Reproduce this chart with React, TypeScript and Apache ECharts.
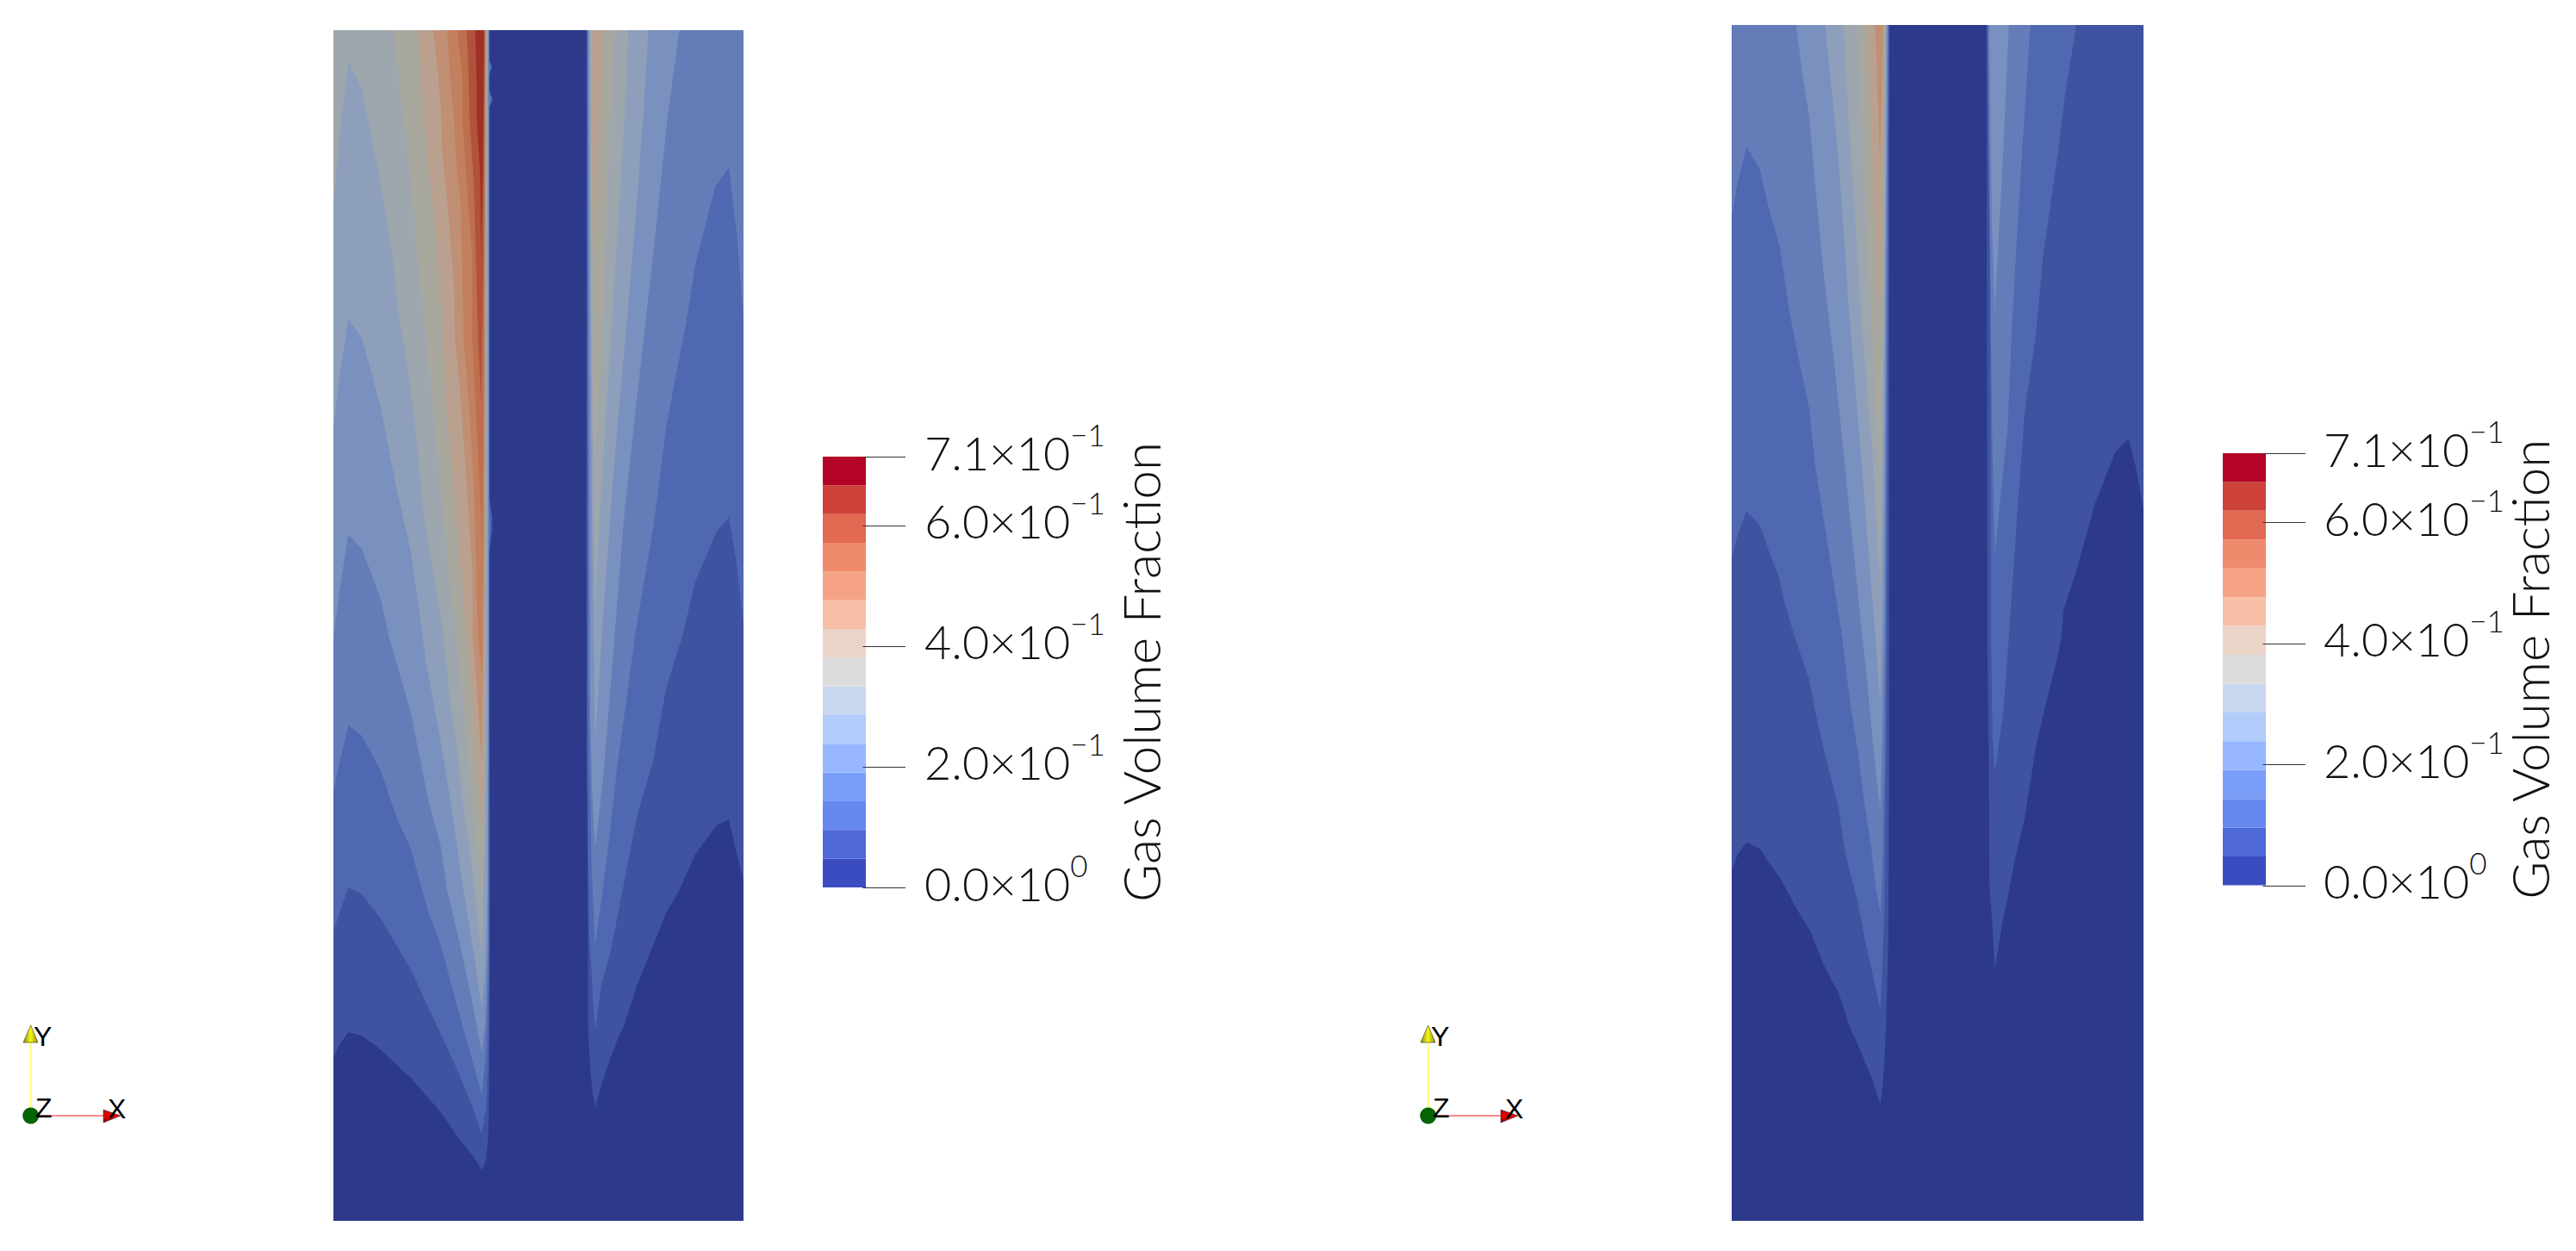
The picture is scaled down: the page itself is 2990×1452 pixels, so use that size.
import React, { useEffect, useRef } from "react";
import * as echarts from "echarts";

// Contour fill colour of each level of the field (as lit in the two views)
const fieldColors = ["#2d3a8c", "#3f53a1", "#5068b2", "#647cb8", "#7a90be", "#8e9fbb", "#9ea7ae", "#a9a89f", "#b9a08f", "#c08f74", "#c2805f", "#bd6f4f", "#b0533a", "#9e3028"];
// Colour legend bands, bottom to top
const legendColors = ["#3b4cc0", "#4f69d9", "#6788ee", "#7b9ff9", "#96b7ff", "#b2ccfb", "#c9d7f0", "#dddcdc", "#ead4c8", "#f6bfa6", "#f6a385", "#f08a6c", "#e26952", "#cc4239", "#b40426"];
const legendTicks = [0, 0.2, 0.4, 0.6, 0.714];
const legendMantissas = ["0.0", "2.0", "4.0", "6.0", "7.1"];
const legendExponents = ["0", "−1", "−1", "−1", "−1"];
const legendTitle = "Gas Volume Fraction";

// View A: iso-contours, left of the pipe, levels 1..13
const viewAInner: number[][][] = [
  [[387,1227],[395,1211],[404.3,1198],[420,1202],[441.7,1218],[453,1229],[467,1242],[476.7,1251],[511.7,1291],[530,1318],[550,1343],[559.3,1358],[564,1347],[566.7,1320],[568,1253],[568.5,1100],[568.5,640],[571.5,615],[571.5,600],[568.5,580],[568.5,125],[572,115],[568.5,105],[568.5,86],[571.5,78],[568.5,70],[568.5,35],[387,35]],
  [[387,1081],[395,1057],[404.3,1030],[420,1038],[441.7,1066],[476.7,1125],[496.7,1169],[511.7,1200],[530,1240],[548.3,1285],[559.3,1316],[564.3,1285],[566.7,1231],[568,1142],[568,640],[570,615],[570,600],[568,580],[568,125],[571,115],[568,105],[568,86],[570.5,78],[568,70],[568,35],[387,35]],
  [[387,919],[395,881],[404.3,842],[420,854],[441.7,894],[460,948],[476.7,985],[496.7,1057],[511.7,1097],[530,1166],[548.3,1231],[559.3,1271],[563.3,1231],[566,1164],[567.3,1097],[567.5,640],[568.5,612],[567.5,580],[567.5,125],[570,115],[567.5,105],[567.5,86],[569.5,78],[567.5,70],[567.5,35],[387,35]],
  [[387,740],[395,680],[404.3,621],[420,637],[441.7,695],[451.7,740],[476.7,827],[496.7,927],[511.7,983],[518.3,1030],[533.3,1093],[548.3,1164],[559.3,1222],[563.3,1186],[566,1097],[567,800],[567,35],[387,35]],
  [[387,497],[395,430],[404.3,371],[420,392],[441.7,472],[460,566],[476.7,640],[490.7,740],[494,767],[510,852],[524,936],[536.7,1026],[548.3,1097],[559.3,1169],[563,1130],[565.5,1040],[566.5,800],[566.5,35],[387,35]],
  [[387,240],[395,150],[404.3,70],[420,103],[430,153],[441.7,213],[456.7,305],[463.3,369],[470,405],[480,478],[487,545],[492,600],[515,740],[521.7,807],[530,865],[538.3,941],[546.7,999],[559.3,1108],[563.5,950],[565.7,35],[387,35]],
  [[457,35],[465,112],[473.3,171.5],[481.7,263],[485,302],[495,395],[503,478],[511.7,562],[520,655],[530,740],[536.7,807],[545,896],[553.3,977],[559.3,1044],[563,880],[565.2,35]],
  [[485,35],[490,102],[493.3,152],[498.3,202],[505,262],[508.3,302],[515,395],[518.3,478],[526.7,562],[533.3,645],[541.7,740],[546.7,798],[551.7,865],[556,919],[559.3,968],[562.5,800],[564.5,35]],
  [[503,35],[508.3,85],[511.7,125],[513.3,175],[520,242],[526.7,328],[528.3,395],[533.3,445],[541.7,562],[548.3,662],[549,740],[553.3,794],[556.7,847],[559.3,883],[562,700],[564,35]],
  [[519,35],[521.7,78],[526.7,135],[530,192],[535,242],[538.3,395],[545,478],[550,562],[555,740],[559.3,785],[562,600],[563.5,35]],
  [[531,35],[536.7,92],[536.7,135],[541.7,212],[548.3,302],[548.3,395],[553.3,495],[558.3,595],[559.3,650],[561.5,450],[563,35]],
  [[541.7,35],[544,92],[545,135],[550,212],[555,395],[558.5,470],[561,300],[562.4,35]],
  [[551.7,35],[553.3,102],[553.3,135],[557.3,202],[558.3,295],[560.5,200],[561.9,35]],
];
// View A: iso-contours, right of the pipe, levels 1..8
const viewAOuter: number[][][] = [
  [[680.7,35],[680.7,700],[682.3,1052],[682.7,1195],[685,1240],[688.3,1271],[690.7,1285.5],[700,1253],[708.3,1229],[716.7,1206.5],[725,1188.6],[740,1142],[758.3,1097],[773.3,1059],[786.7,1037],[806.7,992],[831.7,958],[846,951],[855,990],[863,1022],[863,35]],
  [[681.3,35],[681.3,874],[682.7,1008],[684,1088],[686.7,1133],[690.7,1196],[698.3,1142],[708.3,1106],[716.7,1064],[726.7,1012],[740,945],[758.3,883],[773.3,798],[791.7,740],[806.7,676],[831.7,617],[846,600.6],[855,653],[863,725],[863,35]],
  [[682,35],[683.3,807],[685,918.6],[686.7,1008],[690.7,1097],[698.3,1043.6],[708.3,963],[716.7,887],[725,829],[736.7,740],[758.3,612],[773.3,495],[798.3,364],[806.7,309],[830,217],[846,194.4],[855,270],[863,369],[863,35]],
  [[682.7,35],[685,829],[687.3,918.6],[690.7,985.5],[700,905],[713.3,740],[723.3,612],[738.3,470],[758.3,295],[775,135],[788.7,35]],
  [[684,35],[684.5,300],[687.5,650],[690.7,858],[695,798],[698.3,740],[713.3,535],[725,402],[736.7,268],[746.7,135],[752.7,35]],
  [[685,35],[685.5,280],[688,520],[690.7,706],[695,620],[700,535],[708.3,402],[716.7,268],[725,135],[729.3,35]],
  [[686,35],[686.5,150],[688.5,400],[690.5,575],[690.7,535],[698.3,402],[703.3,268],[708.3,135],[712.7,35]],
  [[687.3,35],[688,200],[690.7,312],[690.7,302],[693.3,202],[696.7,118],[700,35]],
];
// View B: iso-contours, left of the pipe, levels 1..9
const viewBInner: number[][][] = [
  [[2010.3,1010],[2016.7,992],[2027.3,977.5],[2043.3,985.5],[2051.7,999],[2065,1017],[2086.7,1057],[2101.7,1081.5],[2116.7,1119.4],[2135,1155],[2146.7,1191],[2156.7,1213],[2173.3,1253],[2182.7,1282],[2186,1253],[2189.3,1186],[2191.7,1097],[2192.7,918.6],[2193,29],[2010.3,29]],
  [[2010.3,649],[2016.7,621],[2027.3,593],[2042.7,610],[2053.3,640],[2065,669.5],[2070,695],[2083.3,740],[2100,789],[2106.7,825],[2120,883],[2133.3,934],[2141.7,990],[2156.7,1048],[2163.3,1084],[2175,1137],[2182.7,1173],[2185,1119.4],[2187.3,1052.5],[2188.7,918.6],[2190,740],[2192.6,29],[2010.3,29]],
  [[2010.3,249.5],[2016.7,213],[2027.3,170],[2042.7,197],[2053.3,243],[2065.7,286],[2076.7,360],[2088.3,419],[2100,474],[2106.7,539],[2118.3,612],[2128.3,676],[2138.3,740],[2146.7,811],[2156.7,874],[2163.3,927.5],[2171.7,981],[2176.7,1026],[2182.7,1062],[2185,1008],[2187.3,874],[2188.7,740],[2191.6,29],[2010.3,29]],
  [[2085,29],[2091.7,84],[2100,135],[2106.7,213],[2116.7,318],[2128.3,415],[2135,479],[2140,528],[2146.7,594],[2161.7,740],[2166.7,785],[2173.3,856],[2178.3,905],[2182.7,940],[2185,840],[2187.5,700],[2190.8,29]],
  [[2118.3,29],[2125,95],[2131.7,161],[2138.3,245],[2145,345],[2151.7,428],[2160,528],[2176.7,740],[2180,785],[2182.7,814],[2185,700],[2187,500],[2190,29]],
  [[2140,29],[2145,128],[2151.7,228],[2160,361],[2166.7,445],[2173.3,528],[2182.7,681],[2185,560],[2187,350],[2189,29]],
  [[2156.7,29],[2161.7,161],[2166.7,261],[2173.3,395],[2180,511],[2182.7,560],[2184.5,430],[2186,250],[2188,29]],
  [[2167.7,29],[2170,95],[2175,228],[2180,328],[2182.7,368],[2184,280],[2185,200],[2187,29]],
  [[2176.7,29],[2179,95],[2182.3,191],[2184,100],[2186,29]],
];
// View B: iso-contours, right of the pipe, levels 1..4
const viewBOuter: number[][][] = [
  [[2305.7,29],[2306.7,740],[2308.3,874],[2309.3,1030],[2312.7,1075],[2315.3,1125],[2325,1066],[2331.7,1035],[2338.3,999],[2350,950],[2363.3,865],[2375,816],[2388.3,762],[2392.7,740],[2395,708.5],[2410,662.6],[2431.7,584.6],[2455,525],[2470.7,509],[2479.3,543],[2488,591.5],[2488,29]],
  [[2306.5,29],[2310,295],[2311,740],[2312.7,852],[2315.3,896],[2325,829],[2331.7,740],[2340,617],[2350,479],[2363.3,387],[2371.7,295],[2388.3,180.6],[2396.7,112],[2410,29]],
  [[2307.5,29],[2308.3,158],[2310.7,387],[2312.7,525],[2315.3,644],[2325,548],[2330,502],[2335,387],[2340,295],[2346.7,181],[2356.7,29]],
  [[2309,29],[2310,112],[2311.7,249.5],[2315.3,364],[2320,272],[2325,181],[2331.7,29]],
];

const viewARangeX = [387, 863];
const viewARangeY = [35, 1417];
const viewBRangeX = [2010, 2488];
const viewBRangeY = [29, 1417];

const triadOrigins = [0, 1622];
const FONT = "Lato";
const FONT_W = 300;

function contourSeries(xi: number, rx: number[], ry: number[], sides: number[][][][]) {
  const polys: { level: number; pts: number[][] }[] = [
    { level: 0, pts: [[rx[0], ry[0]], [rx[1], ry[0]], [rx[1], ry[1]], [rx[0], ry[1]]] },
  ];
  sides.forEach((side) => side.forEach((pts, i) => polys.push({ level: i + 1, pts })));
  polys.sort((a, b) => a.level - b.level);
  return {
    type: "custom",
    xAxisIndex: xi,
    yAxisIndex: xi,
    silent: true,
    clip: true,
    data: polys.map((p, i) => [p.pts[0][0], p.pts[0][1], i]),
    renderItem: (params: any, api: any) => {
      const p = polys[params.dataIndex];
      return {
        type: "polygon",
        shape: { points: p.pts.map((q) => api.coord(q)) },
        style: { fill: fieldColors[p.level] },
      };
    },
  };
}

function legendSeries(xi: number) {
  const top = legendTicks[legendTicks.length - 1];
  return {
    type: "custom",
    xAxisIndex: xi,
    yAxisIndex: xi,
    silent: true,
    data: legendColors.map((_, i) => [0, (i * top) / legendColors.length, i]),
    renderItem: (params: any, api: any) => {
      const i = params.dataIndex;
      const a = api.coord([0, (i * top) / legendColors.length]);
      const b = api.coord([1, ((i + 1) * top) / legendColors.length]);
      return {
        type: "rect",
        shape: { x: a[0], y: b[1], width: b[0] - a[0], height: a[1] - b[1] },
        style: { fill: legendColors[i] },
      };
    },
  };
}

function legendTickSeries(xi: number) {
  return {
    type: "custom",
    xAxisIndex: xi,
    yAxisIndex: xi,
    silent: true,
    clip: false,
    z: 5,
    data: legendTicks.map((v) => [0.93, v]),
    renderItem: (params: any, api: any) => {
      const v = legendTicks[params.dataIndex];
      const a = api.coord([0.93, v]);
      const b = api.coord([1.92, v]);
      return {
        type: "line",
        shape: { x1: a[0], y1: Math.round(a[1]) + 0.5, x2: b[0], y2: Math.round(a[1]) + 0.5 },
        style: { stroke: "#333", lineWidth: 1 },
      };
    },
  };
}

function legendYAxis(gridIndex: number, labelMargin: number, nameGap: number) {
  return {
    type: "value",
    gridIndex,
    min: 0,
    max: legendTicks[legendTicks.length - 1],
    position: "right",
    axisLine: { show: false },
    splitLine: { show: false },
    axisTick: { show: false },
    axisLabel: {
      show: true,
      margin: labelMargin,
      customValues: legendTicks,
      showMinLabel: true,
      showMaxLabel: true,
      align: "left",
      padding: [0, 0, 22, 0],
      formatter: (v: number) => {
        const i = legendTicks.indexOf(v);
        return `{m|${legendMantissas[i]}×10}{e|${legendExponents[i]}}`;
      },
      rich: {
        m: { fontFamily: FONT, fontWeight: FONT_W, fontSize: 54, color: "#111", lineHeight: 66, verticalAlign: "bottom" },
        e: { fontFamily: FONT, fontWeight: FONT_W, fontSize: 35, color: "#111", lineHeight: 66, verticalAlign: "top" },
      },
    },
    name: legendTitle,
    nameLocation: "middle",
    nameRotate: 90,
    nameGap,
    nameMoveOverlap: false,
    nameTextStyle: { fontFamily: FONT, fontWeight: FONT_W, fontSize: 60, color: "#111" },
  };
}

function triad(dx: number) {
  const axisY = new echarts.graphic.LinearGradient(0, 0, 1, 0, [
    { offset: 0, color: "#8a8a00" },
    { offset: 0.5, color: "#f6f61a" },
    { offset: 1, color: "#8f8f00" },
  ]);
  const axisX = new echarts.graphic.LinearGradient(0, 0, 0, 1, [
    { offset: 0, color: "#c00000" },
    { offset: 0.55, color: "#f00000" },
    { offset: 1, color: "#700000" },
  ]);
  const txt = (text: string, x: number, y: number) => ({
    type: "text",
    x,
    y,
    style: { text, fontFamily: "Liberation Sans", fontSize: 32, fill: "#000", textVerticalAlign: "top" },
  });
  return {
    type: "group",
    x: dx,
    y: 0,
    silent: true,
    children: [
      { type: "line", shape: { x1: 35.7, y1: 1287, x2: 35.7, y2: 1210 }, style: { stroke: "#ffff70", lineWidth: 2 } },
      { type: "line", shape: { x1: 45, y1: 1295, x2: 121, y2: 1295 }, style: { stroke: "#ff8a8a", lineWidth: 2 } },
      { type: "polygon", shape: { points: [[35.7, 1190], [44, 1210], [27, 1210]] }, style: { fill: axisY, stroke: "#333", lineWidth: 0.6 } },
      { type: "polygon", shape: { points: [[140, 1295], [120, 1288], [120, 1303]] }, style: { fill: axisX, stroke: "#333", lineWidth: 0.6 } },
      { type: "circle", shape: { cx: 35.7, cy: 1295, r: 9.5 }, style: { fill: "#056305" } },
      txt("Y", 39, 1187),
      txt("Z", 41, 1270),
      txt("X", 125, 1271),
    ],
  };
}

export default function App() {
  const ref = useRef<HTMLDivElement>(null);
  useEffect(() => {
    document.body.style.margin = "0";
    const chart = echarts.init(ref.current!, undefined, { renderer: "svg" });
    const hidden = (extra: any) => ({ type: "value", show: false, ...extra });
    chart.setOption({
      animation: false,
      backgroundColor: "#ffffff",
      grid: [
        { left: viewARangeX[0], top: viewARangeY[0], width: viewARangeX[1] - viewARangeX[0], height: viewARangeY[1] - viewARangeY[0] },
        { left: viewBRangeX[0], top: viewBRangeY[0], width: viewBRangeX[1] - viewBRangeX[0], height: viewBRangeY[1] - viewBRangeY[0] },
        { left: 955, top: 530, width: 50, height: 500 },
        { left: 2580, top: 526, width: 50, height: 501.5 },
      ],
      xAxis: [
        hidden({ gridIndex: 0, min: viewARangeX[0], max: viewARangeX[1] }),
        hidden({ gridIndex: 1, min: viewBRangeX[0], max: viewBRangeX[1] }),
        hidden({ gridIndex: 2, min: 0, max: 1 }),
        hidden({ gridIndex: 3, min: 0, max: 1 }),
      ],
      yAxis: [
        hidden({ gridIndex: 0, min: viewARangeY[0], max: viewARangeY[1], inverse: true }),
        hidden({ gridIndex: 1, min: viewBRangeY[0], max: viewBRangeY[1], inverse: true }),
        legendYAxis(2, 68, 289),
        legendYAxis(3, 67, 276),
      ],
      series: [
        contourSeries(0, viewARangeX, viewARangeY, [viewAInner, viewAOuter]),
        contourSeries(1, viewBRangeX, viewBRangeY, [viewBInner, viewBOuter]),
        legendSeries(2),
        legendSeries(3),
        legendTickSeries(2),
        legendTickSeries(3),
      ],
      graphic: { elements: triadOrigins.map(triad) },
    });
    return () => chart.dispose();
  }, []);
  return <div ref={ref} style={{ width: 2990, height: 1452, overflow: "hidden" }} />;
}
